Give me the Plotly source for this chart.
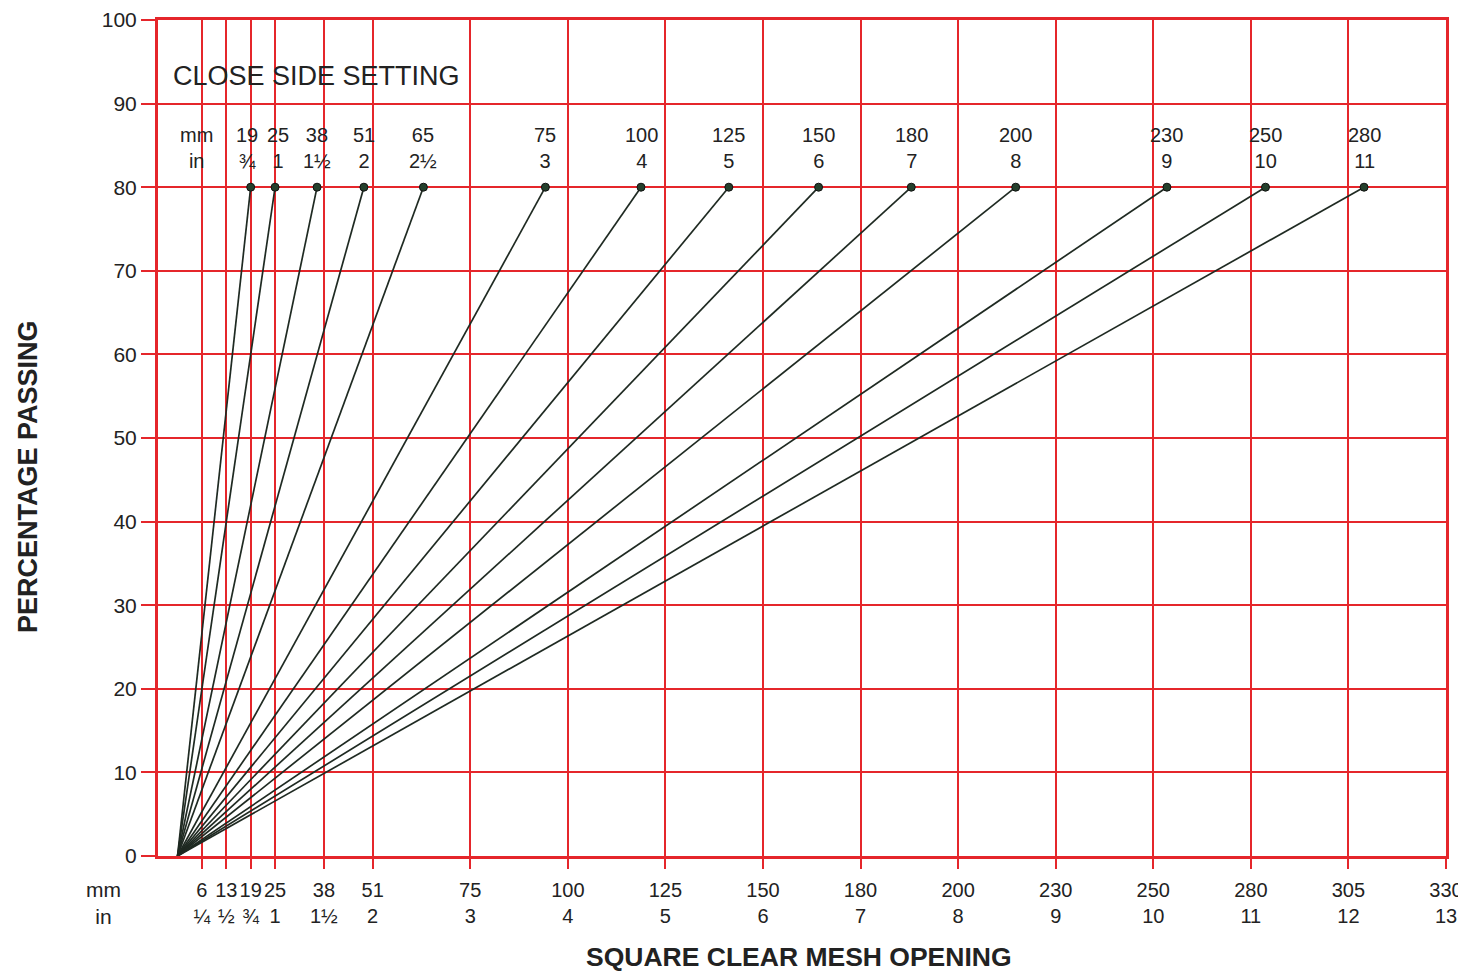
import plotly.graph_objects as go

# ---- data ----
css_mm = ["19", "25", "38", "51", "65", "75", "100", "125", "150", "180", "200", "230", "250", "280"]
css_in = ["¾", "1", "1½", "2", "2½", "3", "4", "5", "6", "7", "8", "9", "10", "11"]
# size (inches) at which 80 % passes
size80_in = [0.75, 1.0, 1.43, 1.91, 2.52, 3.77, 4.75, 5.65, 6.57, 7.52, 8.59, 10.14, 11.15, 12.16]
pct_end = 80

x_tick_vals = [0.25, 0.5, 0.75, 1, 1.5, 2, 3, 4, 5, 6, 7, 8, 9, 10, 11, 12, 13]
x_tick_mm = ["6", "13", "19", "25", "38", "51", "75", "100", "125", "150", "180", "200", "230", "250", "280", "305", "330"]
x_tick_in = ["¼", "½", "¾", "1", "1½", "2", "3", "4", "5", "6", "7", "8", "9", "10", "11", "12", "13"]
y_tick_vals = [0, 10, 20, 30, 40, 50, 60, 70, 80, 90, 100]

# small horizontal nudges (px) for crowded curve labels (style only)
label_nudge = {"19": -4, "25": 3}

RED = "#e5262b"
INK = "#1f2a22"
TXT = "#222222"
FONT = "Liberation Sans, Arial, sans-serif"

# page body has an 8px margin; plot area should sit at page x 158..1446, y 20..856
PL, PT, PW, PH = 158, 20, 1288, 836


def px(xp):
    return (xp - PL) / PW


def py(yp):
    return (PT + PH - yp) / PH


fig = go.Figure()
for mm, inch, xe in zip(css_mm, css_in, size80_in):
    fig.add_trace(go.Scatter(
        x=[0, xe], y=[0, pct_end], mode="lines",
        line=dict(color=INK, width=1.7), showlegend=False, hoverinfo="skip"))
    fig.add_trace(go.Scatter(
        x=[xe], y=[pct_end], mode="markers",
        marker=dict(color="#24402c", size=8, line=dict(color="#111", width=1)),
        showlegend=False, name=f"{mm} mm"))
    fig.add_annotation(x=xe, y=pct_end, text=f"{mm}<br>{inch}", showarrow=False,
                       xanchor="center", yanchor="bottom", yshift=13,
                       xshift=label_nudge.get(mm, 0),
                       font=dict(size=20, color=TXT, family=FONT))

fig.add_annotation(xref="paper", yref="y", x=px(196), y=pct_end, text="mm<br>in",
                   showarrow=False, xanchor="center", yanchor="bottom", yshift=13,
                   font=dict(size=20, color=TXT, family=FONT))

fig.add_annotation(xref="paper", yref="paper", x=px(171), y=py(76),
                   text="CLOSE SIDE SETTING", showarrow=False, xanchor="left", yanchor="middle",
                   font=dict(size=27, color=TXT, family=FONT))

fig.add_annotation(xref="paper", yref="paper", x=px(103), y=py(903),
                   text="mm<br>in", showarrow=False, xanchor="center", yanchor="middle",
                   font=dict(size=21, color=TXT, family=FONT))

fig.add_annotation(xref="paper", yref="paper", x=px(28), y=py(477),
                   text="<b>PERCENTAGE PASSING</b>", showarrow=False, textangle=-90,
                   xanchor="center", yanchor="middle",
                   font=dict(size=27, color=TXT, family=FONT))

fig.add_annotation(xref="paper", yref="paper", x=px(799), y=py(957),
                   text="<b>SQUARE CLEAR MESH OPENING</b>", showarrow=False,
                   xanchor="center", yanchor="middle",
                   font=dict(size=26.5, color=TXT, family=FONT))

fig.update_xaxes(
    range=[-0.2, 13], tickmode="array", tickvals=x_tick_vals,
    ticktext=[f"{m}<br>{i}" for m, i in zip(x_tick_mm, x_tick_in)],
    tickangle=0, automargin=False, ticklabelstandoff=4,
    showgrid=True, gridcolor=RED, gridwidth=1.5, zeroline=False,
    showline=True, linecolor=RED, linewidth=3, mirror=True,
    ticks="outside", ticklen=10, tickwidth=2, tickcolor=RED,
    tickfont=dict(size=20, color=TXT, family=FONT))
fig.update_yaxes(
    range=[0, 100], tickmode="array", tickvals=y_tick_vals, automargin=False,
    showgrid=True, gridcolor=RED, gridwidth=1.5, zeroline=False,
    showline=True, linecolor=RED, linewidth=3, mirror=True,
    ticks="outside", ticklen=14, tickwidth=2, tickcolor=RED,
    tickfont=dict(size=21, color=TXT, family=FONT))

W, H = 1458, 966
fig.update_layout(
    width=W, height=H,
    margin=dict(l=PL - 8, r=W - (PL - 8) - PW, t=PT - 8, b=H - (PT - 8) - PH),
    paper_bgcolor="white", plot_bgcolor="white",
    font=dict(family=FONT, color=TXT),
    showlegend=False)

fig.write_html("out.html")
